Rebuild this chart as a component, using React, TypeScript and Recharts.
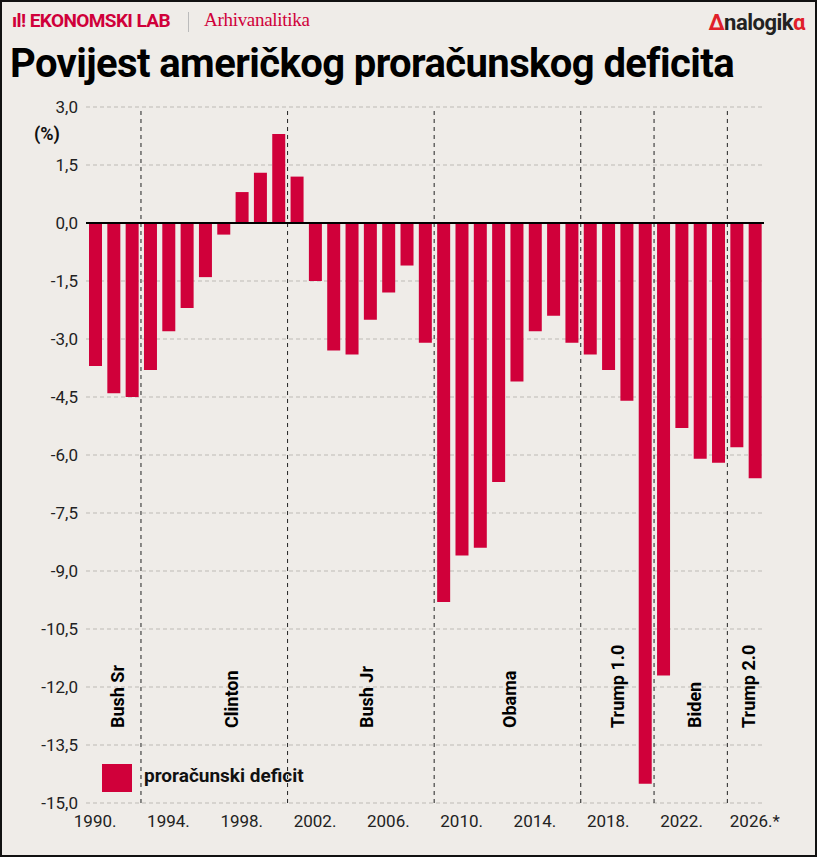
import { BarChart, Bar, XAxis, YAxis, CartesianGrid, ReferenceLine } from "recharts"

const years = Array.from({ length: 37 }, (_, i) => 1990 + i)
const deficit = [
  -3.7, -4.4, -4.5, -3.8, -2.8, -2.2, -1.4, -0.3, 0.8, 1.3, 2.3, 1.2, -1.5, -3.3, -3.4, -2.5, -1.8, -1.1, -3.1,
  -9.8, -8.6, -8.4, -6.7, -4.1, -2.8, -2.4, -3.1, -3.4, -3.8, -4.6, -14.5, -11.7, -5.3, -6.1, -6.2, -5.8, -6.6,
]
const yTicks = [3, 1.5, 0, -1.5, -3, -4.5, -6, -7.5, -9, -10.5, -12, -13.5, -15]
const xTicks = [1990, 1994, 1998, 2002, 2006, 2010, 2014, 2018, 2022, 2026]
const termBreaks = [1992.5, 2000.5, 2008.5, 2016.5, 2020.5, 2024.5]
const presidents = [
  { name: "Bush Sr", at: 1991.2 },
  { name: "Clinton", at: 1997.4 },
  { name: "Bush Jr", at: 2004.8 },
  { name: "Obama", at: 2012.6 },
  { name: "Trump 1.0", at: 2018.5 },
  { name: "Biden", at: 2022.7 },
  { name: "Trump 2.0", at: 2025.6 },
]

const data = years.map((y, i) => ({ year: y, value: deficit[i] }))
const RED = "#d0003a"
const FONT = "Roboto, 'Noto Sans', sans-serif"
const fmt = (v: number) => v.toFixed(1).replace(".", ",")

export default function App() {
  return (
    <div
      style={{
        position: "absolute", left: 0, top: 0, width: 813, height: 853,
        border: "2px solid #111", background: "#efece8", fontFamily: FONT, overflow: "hidden",
      }}
    >
      <div style={{ position: "absolute", left: 10, top: 7, fontSize: 19, fontWeight: 700, color: RED, letterSpacing: -0.6 }}>
        ıl! EKONOMSKI LAB
      </div>
      <div style={{ position: "absolute", left: 186, top: 10, width: 1, height: 20, background: "#bbb" }} />
      <div style={{ position: "absolute", left: 202, top: 7, fontSize: 19, color: RED, fontFamily: "'Liberation Serif', serif", letterSpacing: -0.3 }}>
        Arhivanalitika
      </div>
      <div style={{ position: "absolute", right: 10, top: 8, fontSize: 22, fontWeight: 700, color: "#222", letterSpacing: -0.5 }}>
        <span style={{ color: "#e0202a" }}>Δ</span>nalogik<span style={{ color: "#e0202a" }}>α</span>
      </div>
      <div style={{ position: "absolute", left: 8, top: 38, fontSize: 40, fontWeight: 700, color: "#000", letterSpacing: -0.6 }}>
        Povijest američkog proračunskog deficita
      </div>
      <div style={{ position: "absolute", left: 32, top: 121, fontSize: 18, fontWeight: 700, color: "#111" }}>(%)</div>
      <div style={{ position: "absolute", left: 0, top: 95 }}>
        <BarChart width={790} height={756} data={data} margin={{ top: 10, right: 28, left: 0, bottom: 20 }}>
          <CartesianGrid vertical={false} stroke="#bdbab5" strokeDasharray="4 3" />
          <XAxis
            dataKey="year" type="number" domain={[1989.5, 2026.5]} ticks={xTicks}
            tickFormatter={(v: number) => (v === 2026 ? "2026.*" : v + ".")}
            axisLine={false} tickLine={false} interval={0}
            tick={{ fontSize: 17, fill: "#222", fontFamily: FONT }} dy={4}
          />
          <YAxis
            domain={[-15, 3]} ticks={yTicks} tickFormatter={fmt} width={84}
            axisLine={false} tickLine={false} interval={0}
            tick={{ fontSize: 17, fill: "#222", fontFamily: FONT }}
          />
          {termBreaks.map((x) => (
            <ReferenceLine key={x} x={x} stroke="#222" strokeDasharray="4 4" />
          ))}
          <ReferenceLine y={0} stroke="#000" strokeWidth={2} />
          {presidents.map((p) => (
            <ReferenceLine
              key={p.name} x={p.at} stroke="none"
              label={(props: any) => {
                const vb = props.viewBox
                const x = vb.x + 7
                const y = vb.y + vb.height - 75
                return (
                  <text x={x} y={y} transform={`rotate(-90 ${x} ${y})`} fontSize={18} fontWeight={700} fill="#000" fontFamily={FONT}>
                    {p.name}
                  </text>
                )
              }}
            />
          ))}
          <Bar dataKey="value" fill={RED} barSize={13} isAnimationActive={false} />
        </BarChart>
      </div>
      <div style={{ position: "absolute", left: 100, top: 762, width: 30, height: 28, background: RED }} />
      <div style={{ position: "absolute", left: 142, top: 762, fontSize: 19, fontWeight: 700, color: "#111" }}>
        proračunski deficit
      </div>
    </div>
  )
}
